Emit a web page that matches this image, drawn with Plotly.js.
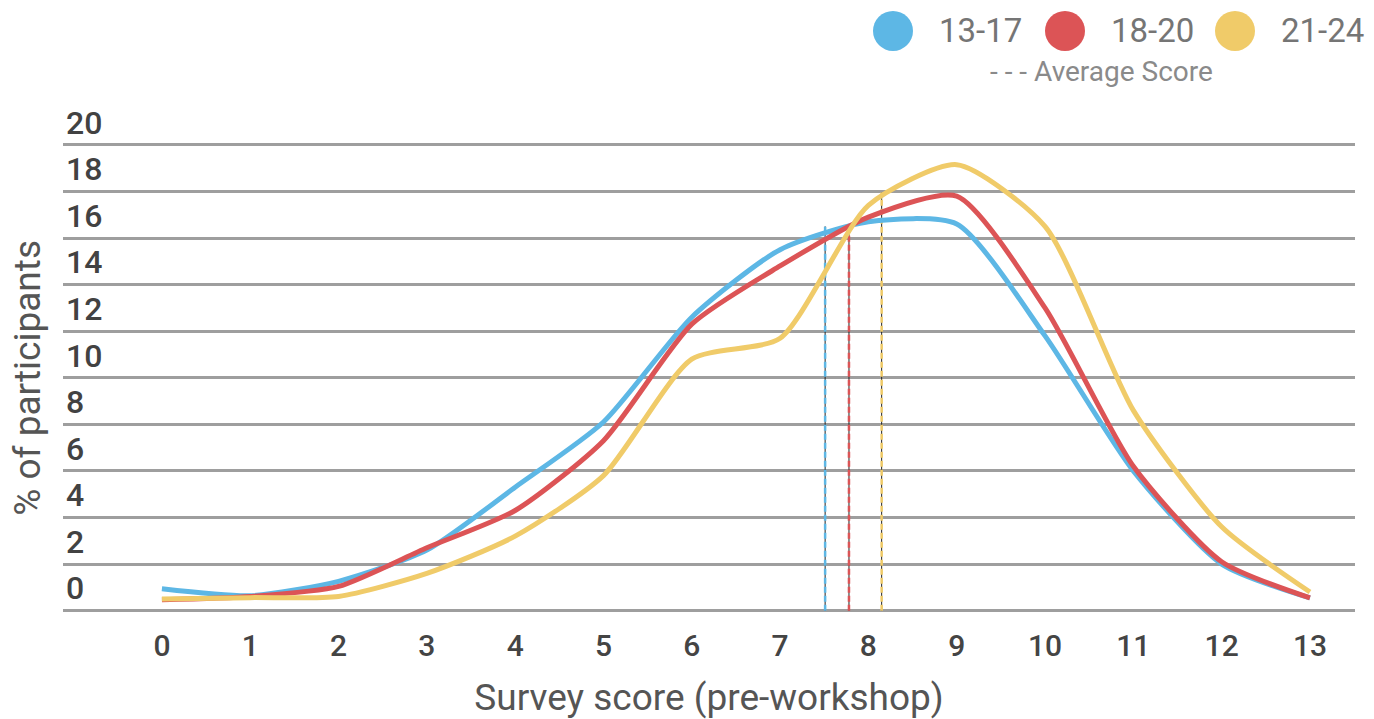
<!DOCTYPE html>
<html>
<head>
<meta charset="utf-8">
<script src="https://cdn.plot.ly/plotly-3.0.1.min.js"></script>
<style>
  html, body { margin: 0; padding: 0; background: #ffffff; }
  #chart { width: 1374px; height: 719px; }
</style>
</head>
<body>
<div id="chart"></div>
<script>
// Survey score distribution by age group (pre-workshop)
const scores = [0, 1, 2, 3, 4, 5, 6, 7, 8, 9, 10, 11, 12, 13];

const groupNames = ['13-17', '18-20', '21-24'];
const groupColors = ['#5DB7E5', '#DC5456', '#F0CB69'];

const pct13to17 = [0.94, 0.64, 1.26, 2.6, 5.3, 8.1, 12.6, 15.5, 16.7, 16.6, 11.8, 6.0, 2.0, 0.55];
const pct18to20 = [0.47, 0.61, 1.04, 2.7, 4.3, 7.3, 12.3, 14.8, 16.9, 17.8, 13.0, 6.2, 2.1, 0.55];
const pct21to24 = [0.5, 0.56, 0.61, 1.6, 3.2, 5.8, 10.8, 11.7, 17.4, 19.15, 16.5, 8.6, 3.6, 0.8];

// average score per group and the height each marker line reaches
const avgScore = [7.51, 7.78, 8.15];
const avgHeight = [16.5, 16.5, 17.95];

const yTicks = [0, 2, 4, 6, 8, 10, 12, 14, 16, 18, 20];

const seriesValues = [pct13to17, pct18to20, pct21to24];

const traces = [];

// dashed average lines: thin dark core under a coloured dash
avgScore.forEach((s, i) => {
  traces.push({
    x: [s, s], y: [0, avgHeight[i]],
    type: 'scatter', mode: 'lines',
    line: { color: '#222222', width: 1 },
    showlegend: false, hoverinfo: 'skip'
  });
  traces.push({
    x: [s, s], y: [0, avgHeight[i]],
    type: 'scatter', mode: 'lines',
    line: { color: groupColors[i], width: 2.5, dash: '6px,3px' },
    showlegend: false, hoverinfo: 'skip'
  });
});

seriesValues.forEach((vals, i) => {
  traces.push({
    x: scores, y: vals, name: groupNames[i],
    type: 'scatter', mode: 'lines',
    line: { color: groupColors[i], width: 5, shape: 'spline', smoothing: 0.65 },
    showlegend: false
  });
});

// plot frame in pixels; y range padded so the 0 gridline and the "20" label stay inside
const yMin = -0.1, yMax = 23;
const pxPerUnit = (611 - 145) / 20;
const plotL = 63, plotR = 1355;
const plotT = 145 - (yMax - 20) * pxPerUnit;
const plotB = 611 + (0 - yMin) * pxPerUnit;
const px2x = p => (p - plotL) / (plotR - plotL);
const px2y = p => (plotB - p) / (plotB - plotT);

// legend drawn at the top right: large dots with labels
const legendDotX = [893, 1065, 1235];
const legendY = 31;

const shapes = legendDotX.map((cx, i) => ({
  type: 'circle', xref: 'paper', yref: 'paper',
  xsizemode: 'pixel', ysizemode: 'pixel',
  xanchor: px2x(cx), yanchor: px2y(legendY),
  x0: -20, x1: 20, y0: -20, y1: 20,
  fillcolor: groupColors[i], line: { width: 0 }
}));

const annotations = legendDotX.map((cx, i) => ({
  text: groupNames[i], xref: 'paper', yref: 'paper',
  x: px2x(cx + 44), y: px2y(legendY),
  xanchor: 'left', yanchor: 'middle', showarrow: false,
  font: { family: 'Roboto, sans-serif', size: 33, color: '#757575' }
}));
annotations.push({
  text: '- - - Average Score', xref: 'paper', yref: 'paper',
  x: px2x(1101), y: px2y(72),
  xanchor: 'center', yanchor: 'middle', showarrow: false,
  font: { family: 'Roboto, sans-serif', size: 28, color: '#8a8a8a' }
});
// y axis title, set close to the left edge
annotations.push({
  text: '% of participants', xref: 'paper', yref: 'paper',
  x: px2x(28), y: px2y(378), textangle: -90,
  xanchor: 'center', yanchor: 'middle', showarrow: false,
  font: { family: 'Roboto, sans-serif', size: 37, color: '#555555' }
});

const layout = {
  width: 1374, height: 719,
  margin: { l: plotL, r: 1374 - plotR, t: plotT, b: 719 - plotB, pad: 0 },
  paper_bgcolor: '#ffffff', plot_bgcolor: '#ffffff',
  showlegend: false,
  hovermode: false,
  font: { family: 'Roboto, sans-serif' },
  xaxis: {
    range: [-1.12, 13.51],
    tickvals: scores,
    ticktext: scores.map(String),
    showgrid: false, zeroline: false, showline: false,
    ticks: '', ticklabelstandoff: 12,
    tickfont: { family: 'Roboto, sans-serif', size: 30, color: '#444444', weight: 500 },
    title: { text: 'Survey score (pre-workshop)', standoff: 22,
             font: { family: 'Roboto, sans-serif', size: 37, color: '#555555' } }
  },
  yaxis: {
    range: [yMin, yMax],
    tickvals: yTicks,
    ticktext: yTicks.map(String),
    ticklabelposition: 'inside top',
    showgrid: true, gridcolor: '#9e9e9e', gridwidth: 3,
    zeroline: false,
    showline: false, ticks: '',
    tickfont: { family: 'Roboto, sans-serif', size: 32, color: '#424242', weight: 500 }
  },
  shapes: shapes,
  annotations: annotations
};

Plotly.newPlot('chart', traces, layout, { displayModeBar: false, staticPlot: true });
</script>
</body>
</html>
